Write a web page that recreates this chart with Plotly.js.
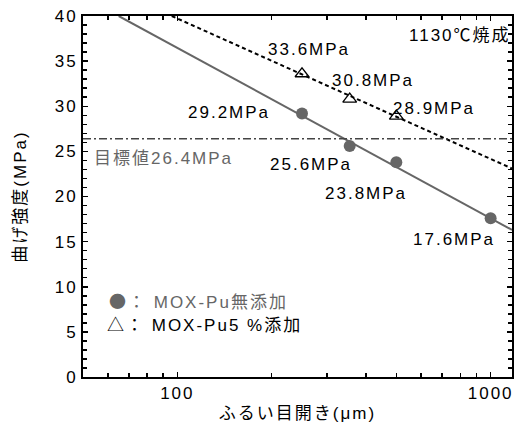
<!DOCTYPE html>
<html><head><meta charset="utf-8">
<script src="https://cdn.plot.ly/plotly-3.0.1.min.js"></script>
<style>
html,body{margin:0;padding:0;background:#fff;}
#chart{width:517px;height:427px;}
#chart svg text{letter-spacing:2px;}
</style>
</head><body><div id="chart"></div>
<script>
// ---- data ----
const sieveNoPu = [250, 355, 500, 1000];
const strengthNoPu = [29.2, 25.6, 23.8, 17.6];
const sievePu5 = [250, 355, 500];
const strengthPu5 = [33.6, 30.8, 28.9];
const trendNoPuX = [65, 1170];
const trendNoPuY = [40, 16.3];
const trendPu5X = [96, 1170];
const trendPu5Y = [40, 23.1];
const targetValue = 26.4;
const xTickVals = [100, 1000];
const xTickText = ["100", "1000"];
const xMinorVals = [50,60,70,80,90,200,300,400,500,600,700,800,900];

// ---- geometry helpers ----
const W = 517, H = 427;
const M = {l: 83, r: 5, t: 16, b: 50};
const pw = W - M.l - M.r, ph = H - M.t - M.b;
const px = x => (x - M.l) / pw;
const py = y => (H - M.b - y) / ph;

const FONT = "Liberation Sans, Arial, Noto Sans CJK JP, sans-serif";
const CJK = "Noto Sans CJK JP";
const FS = 17;
const GRAY = "#666666";

const traces = [
  {x: trendNoPuX, y: trendNoPuY, mode: "lines", line: {color: GRAY, width: 2}, hoverinfo: "skip"},
  {x: trendPu5X, y: trendPu5Y, mode: "lines", line: {color: "#000", width: 2, dash: "4px,3px"}, hoverinfo: "skip"},
  {x: sieveNoPu, y: strengthNoPu, mode: "markers",
   marker: {symbol: "circle", size: 12, color: GRAY}},
  {x: sievePu5, y: strengthPu5, mode: "markers",
   marker: {symbol: "triangle-up-open", size: 12, color: "#000", line: {width: 1.3}}}
];

const noPuLabelPos = [[193,112],[275,165],[330,193],[418,239]];
const pu5LabelPos = [[273,50],[337,80],[398,108]];
const ann = [];
strengthNoPu.forEach((v,i)=>ann.push({text: v.toFixed(1)+"MPa", x: px(noPuLabelPos[i][0]), y: py(noPuLabelPos[i][1])}));
strengthPu5.forEach((v,i)=>ann.push({text: v.toFixed(1)+"MPa", x: px(pu5LabelPos[i][0]), y: py(pu5LabelPos[i][1])}));
ann.forEach(a=>{a.xref="paper";a.yref="paper";a.xanchor="left";a.yanchor="middle";a.showarrow=false;a.font={family:FONT,size:FS,color:"#000"};});
ann.push({text: "目標値" + targetValue.toFixed(1) + "MPa", xref:"paper", yref:"paper", x: px(102), y: py(158),
  xanchor:"left", yanchor:"middle", showarrow:false, font:{family:FONT,size:FS,color:GRAY}});
ann.push({text: "1130℃焼成", xref:"paper", yref:"paper", x: px(506), y: py(35),
  xanchor:"right", yanchor:"middle", showarrow:false, font:{family:FONT,size:FS,color:"#000"}});
ann.push({text: "<span style='font-family:" + CJK + "'>●：</span>&nbsp;MOX-Pu無添加", xref:"paper", yref:"paper", x: px(119), y: py(300),
  xanchor:"left", yanchor:"middle", showarrow:false, font:{family:FONT,size:FS,color:GRAY}});
ann.push({text: "<span style='font-family:" + CJK + "'>△：</span>&nbsp;MOX-Pu5 %添加", xref:"paper", yref:"paper", x: px(119), y: py(323),
  xanchor:"left", yanchor:"middle", showarrow:false, font:{family:FONT,size:FS,color:"#000"}});

const layout = {
  width: W, height: H,
  margin: M,
  paper_bgcolor: "#fff", plot_bgcolor: "#fff",
  showlegend: false,
  font: {family: FONT, size: FS, color: "#000"},
  xaxis: {
    type: "log", range: [Math.log10(50), Math.log10(1170)],
    tickvals: xTickVals, ticktext: xTickText,
    ticks: "inside", ticklen: 5, tickwidth: 1.5, tickcolor: "#000",
    minor: {tickvals: xMinorVals, ticks: "inside", ticklen: 4, tickwidth: 1.5, tickcolor: "#000", showgrid: false},
    showline: true, linecolor: "#000", linewidth: 2, mirror: "allticks",
    showgrid: false, zeroline: false,
    tickfont: {family: FONT, size: FS},
    title: {text: "ふるい目開き(μm)", font: {family: FONT, size: FS}, standoff: 5}
  },
  yaxis: {
    range: [0, 40], dtick: 5, tick0: 0,
    ticks: "inside", ticklen: 5, tickwidth: 1.5, tickcolor: "#000",
    minor: {dtick: 1, ticks: "inside", ticklen: 4, tickwidth: 1.5, tickcolor: "#000", showgrid: false},
    showline: true, linecolor: "#000", linewidth: 2, mirror: "allticks",
    showgrid: false, zeroline: false,
    tickfont: {family: FONT, size: FS},
    title: {text: "曲げ強度(MPa)", font: {family: FONT, size: FS}, standoff: 28}
  },
  shapes: [{type: "line", xref: "paper", yref: "y", x0: 0, x1: 1, y0: targetValue, y1: targetValue,
    line: {color: "#444", width: 1.3, dash: "8px,3px,2px,3px"}}],
  annotations: ann
};
Plotly.newPlot("chart", traces, layout, {staticPlot: true, displayModeBar: false});
</script></body></html>
